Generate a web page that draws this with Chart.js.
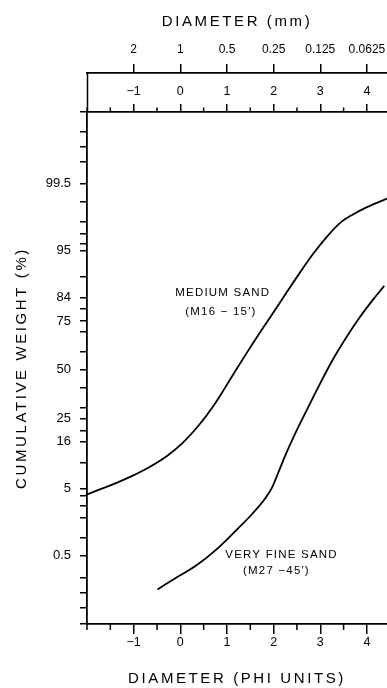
<!DOCTYPE html>
<html>
<head>
<meta charset="utf-8">
<script src="https://cdn.jsdelivr.net/npm/chart.js@4.4.1/dist/chart.umd.min.js"></script>
<style>
  html, body { margin: 0; padding: 0; background: #fff; overflow: hidden; }
  #wrap { width: 387px; height: 688px; }
</style>
</head>
<body>
<div id="wrap"><canvas id="c" width="387" height="688"></canvas></div>
<script>
// ---------------- DATA ----------------
// Medium sand (M16 - 15') : phi diameter vs cumulative weight (%)
const PHI_MEDIUM = [-2.0, -1.74, -1.38, -1.03, -0.67, -0.30, 0.04, 0.41, 0.69, 0.90, 1.12, 1.42, 1.70, 1.98, 2.28, 2.56, 2.84, 3.14, 3.42, 3.70, 4.00, 4.43];
const PCT_MEDIUM = [4.21, 4.85, 5.82, 7.08, 8.85, 11.5, 15.4, 22.4, 30.2, 37.8, 46.8, 59.1, 69.5, 78.2, 85.8, 91.0, 94.5, 96.71, 97.88, 98.42, 98.78, 99.11];
// Very fine sand (M27 - 45')
const PHI_FINE = [-0.49, -0.09, 0.34, 0.77, 1.20, 1.55, 1.81, 1.96, 2.09, 2.28, 2.50, 2.71, 2.99, 3.27, 3.57, 3.85, 4.13, 4.37];
const PCT_FINE = [0.118, 0.199, 0.336, 0.639, 1.32, 2.33, 3.67, 5.05, 7.49, 12.7, 20.3, 28.8, 42.1, 55.6, 67.7, 76.7, 83.4, 87.7];

// Axis ticks
const X_MAJOR = [-1, 0, 1, 2, 3, 4];
const X_MINOR = [-2, -1.5, -0.5, 0.5, 1.5, 2.5, 3.5];
const X_RANGE = [-2.0, 4.43];
const MM_LABELS = ['2', '1', '0.5', '0.25', '0.125', '0.0625'];
const MM_VALUES = [2, 1, 0.5, 0.25, 0.125, 0.0625];
const Y_TICKS_PCT = [0.05, 0.1, 0.2, 0.5, 1, 2, 3, 4, 5, 10, 16, 20, 25, 30, 40, 50, 60, 70, 75, 80, 84, 90, 95, 96, 97, 98, 99, 99.5, 99.8, 99.9, 99.95];
const Y_LABELS_PCT = [0.5, 5, 16, 25, 50, 75, 84, 95, 99.5];
const Y_RANGE_PCT = [0.0216, 99.982];

// Curve labels
const NOTE_TEXT = ['MEDIUM SAND', '(M16 \u2212 15\u2032)', 'VERY FINE SAND', '(M27 \u221245\u2032)'];
const NOTE_PHI = [0.91, 0.87, 2.17, 2.06];
const NOTE_PCT = [85.6, 79.0, 0.53, 0.27];

// ---------------- HELPERS ----------------
function probit(pct) {
  const p = pct / 100;
  const a = [-3.969683028665376e+01, 2.209460984245205e+02, -2.759285104469687e+02, 1.383577518672690e+02, -3.066479806614716e+01, 2.506628277459239e+00];
  const b = [-5.447609879822406e+01, 1.615858368580409e+02, -1.556989798598866e+02, 6.680131188771972e+01, -1.328068155288572e+01];
  const c = [-7.784894002430293e-03, -3.223964580411365e-01, -2.400758277161838e+00, -2.549732539343734e+00, 4.374664141464968e+00, 2.938163982698783e+00];
  const d = [7.784695709041462e-03, 3.224671290700398e-01, 2.445134137142996e+00, 3.754408661907416e+00];
  const pl = 0.02425;
  let q, r;
  if (p < pl) {
    q = Math.sqrt(-2 * Math.log(p));
    return (((((c[0]*q+c[1])*q+c[2])*q+c[3])*q+c[4])*q+c[5]) / ((((d[0]*q+d[1])*q+d[2])*q+d[3])*q+1);
  }
  if (p <= 1 - pl) {
    q = p - 0.5; r = q * q;
    return (((((a[0]*r+a[1])*r+a[2])*r+a[3])*r+a[4])*r+a[5])*q / (((((b[0]*r+b[1])*r+b[2])*r+b[3])*r+b[4])*r+1);
  }
  q = Math.sqrt(-2 * Math.log(1 - p));
  return -(((((c[0]*q+c[1])*q+c[2])*q+c[3])*q+c[4])*q+c[5]) / ((((d[0]*q+d[1])*q+d[2])*q+d[3])*q+1);
}
const phiLabel = v => (v < 0 ? '\u2212' + Math.abs(v) : String(v));
const toPoints = (xs, ps) => xs.map((x, i) => ({ x: x, y: probit(ps[i]) }));

const FONT = "'Liberation Sans', Arial, Helvetica, sans-serif";
const INK = '#000';
const TITLE_SPACING = '2.6px';

const extras = {
  id: 'extras',
  afterUpdate(chart) {
    Object.values(chart.scales).forEach(s => {
      if (!s.__wrapped) {
        const orig = s.drawTitle.bind(s);
        s.drawTitle = function () {
          const c = this.ctx;
          c.save();
          c.letterSpacing = TITLE_SPACING;
          orig();
          c.restore();
        };
        s.__wrapped = true;
      }
    });
  },
  afterDraw(chart) {
    const { ctx } = chart;
    const x = chart.scales.x, xTop = chart.scales.xTop, xMM = chart.scales.xMM, y = chart.scales.y;
    ctx.save();
    ctx.strokeStyle = '#000';
    ctx.lineWidth = 1.5;
    const line = (x1, y1, x2, y2) => { ctx.beginPath(); ctx.moveTo(x1, y1); ctx.lineTo(x2, y2); ctx.stroke(); };
    X_MINOR.forEach(v => {
      const px = x.getPixelForValue(v);
      line(px, x.top, px, x.top + 6);
      const pt = xTop.getPixelForValue(v);
      line(pt, xTop.bottom, pt, xTop.bottom - 4.5);
    });
    // left side of the upper phi band
    line(xMM.left + 0.5, xMM.bottom, xTop.left + 0.5, xTop.bottom);
    // curve labels
    ctx.fillStyle = INK;
    ctx.font = '11.5px ' + FONT;
    ctx.letterSpacing = '1.2px';
    ctx.textAlign = 'center';
    ctx.textBaseline = 'middle';
    NOTE_TEXT.forEach((t, i) => {
      ctx.fillText(t, x.getPixelForValue(NOTE_PHI[i]), y.getPixelForValue(probit(NOTE_PCT[i])));
    });
    ctx.restore();
  }
};

const tickGrid = (len) => ({
  drawOnChartArea: false,
  drawTicks: true,
  tickLength: len,
  color: '#000',
  tickColor: '#000',
  tickWidth: 1.5,
  lineWidth: 1.5
});
const border = { display: true, color: '#000', width: 1.8 };
const fitH = (h) => (s) => { s.height = h; s.paddingLeft = 0; s.paddingRight = 0; };

new Chart(document.getElementById('c'), {
  type: 'line',
  data: {
    datasets: [
      {
        label: 'MEDIUM SAND (M16 - 15\u2032)',
        data: toPoints(PHI_MEDIUM, PCT_MEDIUM),
        borderColor: '#000',
        borderWidth: 1.8,
        pointRadius: 0,
        fill: false,
        cubicInterpolationMode: 'monotone'
      },
      {
        label: 'VERY FINE SAND (M27 - 45\u2032)',
        data: toPoints(PHI_FINE, PCT_FINE),
        borderColor: '#000',
        borderWidth: 1.8,
        pointRadius: 0,
        fill: false,
        cubicInterpolationMode: 'monotone'
      }
    ]
  },
  options: {
    responsive: false,
    animation: false,
    devicePixelRatio: 1,
    layout: { padding: 0 },
    plugins: { legend: { display: false }, tooltip: { enabled: false } },
    scales: {
      x: {
        type: 'linear',
        position: 'bottom',
        min: X_RANGE[0], max: X_RANGE[1],
        afterBuildTicks: (axis) => { axis.ticks = X_MAJOR.map(v => ({ value: v })); },
        afterFit: fitH(64),
        ticks: { autoSkip: false, maxRotation: 0, padding: 1, color: INK, font: { family: FONT, size: 12.5 }, callback: (v) => phiLabel(v) },
        grid: tickGrid(10),
        border: border,
        title: { display: true, text: 'DIAMETER (PHI UNITS)', color: INK, font: { family: FONT, size: 15 }, padding: { top: 0, bottom: 0 } }
      },
      xTop: {
        type: 'linear',
        position: 'top',
        weight: 0,
        min: X_RANGE[0], max: X_RANGE[1],
        afterBuildTicks: (axis) => { axis.ticks = X_MAJOR.map(v => ({ value: v })); },
        afterFit: fitH(39),
        ticks: { autoSkip: false, maxRotation: 0, padding: 5, color: INK, font: { family: FONT, size: 12.5 }, callback: (v) => phiLabel(v) },
        grid: tickGrid(8),
        border: border
      },
      xMM: {
        type: 'linear',
        position: 'top',
        weight: 1,
        min: X_RANGE[0], max: X_RANGE[1],
        afterBuildTicks: (axis) => { axis.ticks = MM_VALUES.map((mm, i) => ({ value: -Math.log2(mm), mm: MM_LABELS[i] })); },
        afterFit: fitH(73),
        ticks: { autoSkip: false, maxRotation: 0, padding: 7, color: INK, font: { family: FONT, size: 12 }, callback: (v, i, t) => t[i].mm },
        grid: tickGrid(9),
        border: border,
        title: { display: true, text: 'DIAMETER (mm)', color: INK, font: { family: FONT, size: 15 }, padding: { top: 13, bottom: 0 } }
      },
      y: {
        type: 'linear',
        position: 'left',
        min: probit(Y_RANGE_PCT[0]), max: probit(Y_RANGE_PCT[1]),
        afterBuildTicks: (axis) => {
          axis.ticks = [{ value: probit(Y_RANGE_PCT[0]), pct: null }]
            .concat(Y_TICKS_PCT.map(p => ({ value: probit(p), pct: p })))
            .concat([{ value: probit(Y_RANGE_PCT[1]), pct: null }]);
        },
        afterFit: (s) => { s.width = 87; s.paddingTop = 0; s.paddingBottom = 0; },
        ticks: {
          autoSkip: false, padding: 9, color: INK, font: { family: FONT, size: 13 },
          callback: (v, i, t) => (t[i].pct !== null && Y_LABELS_PCT.includes(t[i].pct) ? String(t[i].pct) : '')
        },
        grid: tickGrid(7),
        border: border,
        title: { display: true, text: 'CUMULATIVE WEIGHT (%)', color: INK, font: { family: FONT, size: 15 }, padding: { top: 13, bottom: 0 } }
      }
    }
  },
  plugins: [extras]
});
</script>
</body>
</html>
